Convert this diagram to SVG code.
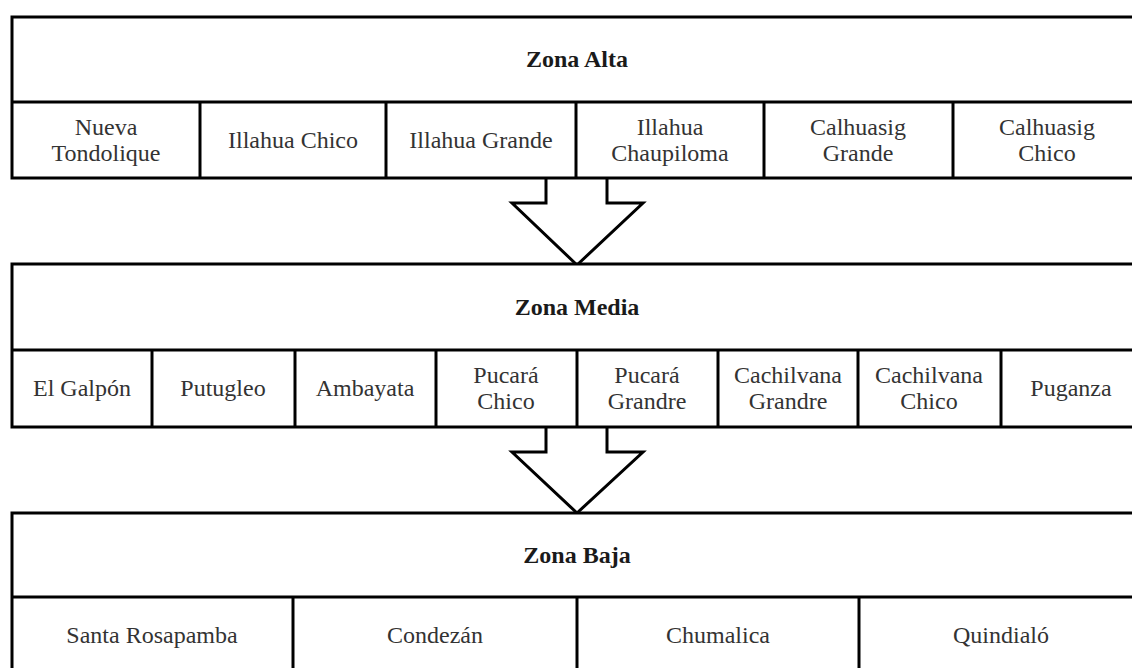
<svg xmlns="http://www.w3.org/2000/svg" width="1132" height="668" viewBox="0 0 1132 668">
  <style>
    .box { fill: #ffffff; stroke: #000000; stroke-width: 3; }
    .ln { stroke: #000000; stroke-width: 3; fill: none; }
    .arrow { fill: #ffffff; stroke: #000000; stroke-width: 3; stroke-linejoin: miter; }
    .hd { font-family: "Liberation Serif", "Times New Roman", serif; font-size: 24px; font-weight: bold; fill: #1a1a1a; text-anchor: middle; }
    .tx { font-family: "Liberation Serif", "Times New Roman", serif; font-size: 24px; fill: #333333; text-anchor: middle; }
  </style>
  <rect width="1132" height="668" fill="#ffffff"/>

  <!-- Connectors -->
  <g id="connectors">
    <polyline class="arrow" points="546,178 546,203 512,203 577,265 643,203 607,203 607,178"/>
    <polyline class="arrow" points="546,427 546,452 512,452 577,513 643,452 607,452 607,427"/>
  </g>

  <!-- Zona Alta -->
  <g id="zona-alta">
    <rect class="box" x="12" y="17" width="1140" height="161"/>
    <line class="ln" x1="12" y1="102" x2="1152" y2="102"/>
    <text class="hd" x="577" y="67">Zona Alta</text>
  </g>
  <g id="alta-cells">
    <line class="ln" x1="200" y1="102" x2="200" y2="178"/>
    <line class="ln" x1="386" y1="102" x2="386" y2="178"/>
    <line class="ln" x1="576" y1="102" x2="576" y2="178"/>
    <line class="ln" x1="764" y1="102" x2="764" y2="178"/>
    <line class="ln" x1="953" y1="102" x2="953" y2="178"/>
  </g>
  <g id="nueva-tondolique"><text class="tx" x="106" y="135">Nueva</text><text class="tx" x="106" y="161">Tondolique</text></g>
  <g id="illahua-chico"><text class="tx" x="293" y="148">Illahua Chico</text></g>
  <g id="illahua-grande"><text class="tx" x="481" y="148">Illahua Grande</text></g>
  <g id="illahua-chaupiloma"><text class="tx" x="670" y="135">Illahua</text><text class="tx" x="670" y="161">Chaupiloma</text></g>
  <g id="calhuasig-grande"><text class="tx" x="858" y="135">Calhuasig</text><text class="tx" x="858" y="161">Grande</text></g>
  <g id="calhuasig-chico"><text class="tx" x="1047" y="135">Calhuasig</text><text class="tx" x="1047" y="161">Chico</text></g>

  <!-- Zona Media -->
  <g id="zona-media">
    <rect class="box" x="12" y="264" width="1140" height="163"/>
    <line class="ln" x1="12" y1="350" x2="1152" y2="350"/>
    <text class="hd" x="577" y="315">Zona Media</text>
  </g>
  <g id="media-cells">
    <line class="ln" x1="152" y1="350" x2="152" y2="427"/>
    <line class="ln" x1="295" y1="350" x2="295" y2="427"/>
    <line class="ln" x1="436" y1="350" x2="436" y2="427"/>
    <line class="ln" x1="577" y1="350" x2="577" y2="427"/>
    <line class="ln" x1="718" y1="350" x2="718" y2="427"/>
    <line class="ln" x1="858" y1="350" x2="858" y2="427"/>
    <line class="ln" x1="1001" y1="350" x2="1001" y2="427"/>
  </g>
  <g id="el-galpon"><text class="tx" x="82" y="396">El Galpón</text></g>
  <g id="putugleo"><text class="tx" x="223" y="396">Putugleo</text></g>
  <g id="ambayata"><text class="tx" x="365" y="396">Ambayata</text></g>
  <g id="pucara-chico"><text class="tx" x="506" y="383">Pucará</text><text class="tx" x="506" y="409">Chico</text></g>
  <g id="pucara-grandre"><text class="tx" x="647" y="383">Pucará</text><text class="tx" x="647" y="409">Grandre</text></g>
  <g id="cachilvana-grandre"><text class="tx" x="788" y="383">Cachilvana</text><text class="tx" x="788" y="409">Grandre</text></g>
  <g id="cachilvana-chico"><text class="tx" x="929" y="383">Cachilvana</text><text class="tx" x="929" y="409">Chico</text></g>
  <g id="puganza"><text class="tx" x="1071" y="396">Puganza</text></g>

  <!-- Zona Baja -->
  <g id="zona-baja">
    <rect class="box" x="12" y="513" width="1140" height="180"/>
    <line class="ln" x1="12" y1="597" x2="1152" y2="597"/>
    <text class="hd" x="577" y="563">Zona Baja</text>
  </g>
  <g id="baja-cells">
    <line class="ln" x1="293" y1="597" x2="293" y2="680"/>
    <line class="ln" x1="577" y1="597" x2="577" y2="680"/>
    <line class="ln" x1="859" y1="597" x2="859" y2="680"/>
  </g>
  <g id="santa-rosapamba"><text class="tx" x="152" y="643">Santa Rosapamba</text></g>
  <g id="condezan"><text class="tx" x="435" y="643">Condezán</text></g>
  <g id="chumalica"><text class="tx" x="718" y="643">Chumalica</text></g>
  <g id="quindialo"><text class="tx" x="1001" y="643">Quindialó</text></g>
</svg>
